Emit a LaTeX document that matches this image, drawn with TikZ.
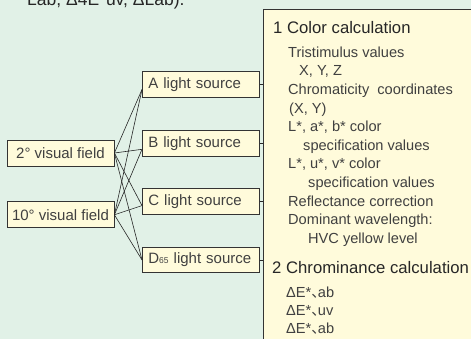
\documentclass[tikz,border=0pt]{standalone}
\usepackage{fontspec}
\setmainfont{Liberation Sans}
\newfontfamily\cjk{Noto Sans CJK JP}
\usetikzlibrary{positioning}
\definecolor{bgmint}{HTML}{E1F1E7}
\definecolor{cream}{HTML}{FFFBDB}
\definecolor{edgegray}{HTML}{333333}
\definecolor{txtgray}{HTML}{404040}

\begin{document}
\begin{tikzpicture}[
  x=1pt, y=-1pt,
  font=\fontsize{15}{18}\selectfont,
  fieldbox/.style={draw=edgegray, fill=cream, line width=0.8pt,
                   minimum width=107pt, minimum height=26pt, inner sep=0pt,
                   text=txtgray},
  srcbox/.style={draw=edgegray, fill=cream, line width=0.8pt,
                 minimum height=25.5pt, inner xsep=6pt, inner ysep=0pt,
                 text width=105pt, align=left, text=txtgray},
  panel/.style={draw=edgegray, fill=cream, line width=0.8pt,
                minimum width=230pt, minimum height=350pt},
  wire/.style={draw=black!85, line width=0.6pt},
  head/.style={anchor=base west, inner sep=0pt,
               font=\fontsize{16.7}{20}\selectfont, text=black!85},
  items/.style={anchor=north west, inner sep=0pt, align=left, text=txtgray},
]
\useasboundingbox (0,0) rectangle (471,339);
\fill[bgmint] (0,0) rectangle (471,339);

% Caption line cut by the frame
\node[anchor=base west, inner sep=0pt, font=\fontsize{17.5}{20}\selectfont,
      text=black!85] (capt) at (27,5.5) {Lab, Δ4E*uv, ΔLab).};

% Calculation panel
\node[panel, anchor=north west] (calc) at (263,9) {};

% Visual fields
\node[fieldbox] (v2) at (60.5,153) {2° visual field};
\node[fieldbox, below=35pt of v2] (v10) {10° visual field};

% Light sources
\node[srcbox, anchor=west] (la) at (142,84.5) {A light source};
\node[srcbox, below=32.5pt of la] (lb) {B light source};
\node[srcbox, below=32pt of lb] (lc) {C light source};
\node[srcbox, below=32pt of lc] (ld)
  {D{\fontsize{8.5}{9}\selectfont 65} light source};

% Fields to sources
\draw[wire] (v2.east) -- ([yshift=-5pt]la.west);
\draw[wire] (v2.east) -- ([yshift=-6pt]lb.west);
\draw[wire] (v2.east) -- ([yshift=-4pt]lc.west);
\draw[wire] (v2.east) -- (ld.west);
\draw[wire] (v10.east) -- ([yshift=-5pt]la.west);
\draw[wire] (v10.east) -- ([yshift=-6pt]lb.west);
\draw[wire] (v10.east) -- ([yshift=-4pt]lc.west);
\draw[wire] (v10.east) -- (ld.west);

% Sources to panel
\draw[wire] (la.east) -- (la.east -| calc.west);
\draw[wire] (lb.east) -- (lb.east -| calc.west);
\draw[wire] (lc.east) -- (lc.east -| calc.west);
\draw[wire] (ld.east) -- (ld.east -| calc.west);

% Panel texts
\node[head] (h1) at (273,34) {1 Color calculation};
\node[items, font=\fontsize{14.6}{18.6}\selectfont] (list1) at (288,46.5)
  {Tristimulus values\\
   \hspace*{11pt}X, Y, Z\\
   Chromaticity\ \ coordinates\\
   \hspace*{1pt}(X, Y)\\
   L*, a*, b* color\\
   \hspace*{15pt}specification values\\
   L*, u*, v* color\\
   \hspace*{20pt}specification values\\
   Reflectance correction\\
   Dominant wavelength:\\
   \hspace*{20pt}HVC yellow level};
\node[head] (h2) at (272,273) {2 Chrominance calculation};
\node[items, font=\fontsize{14.6}{18}\selectfont] (list2) at (286,286.5)
  {ΔE*\makebox[0.45em][l]{\cjk 、}ab\\
   ΔE*\makebox[0.45em][l]{\cjk 、}uv\\
   ΔE*\makebox[0.45em][l]{\cjk 、}ab};

\end{tikzpicture}
\end{document}
